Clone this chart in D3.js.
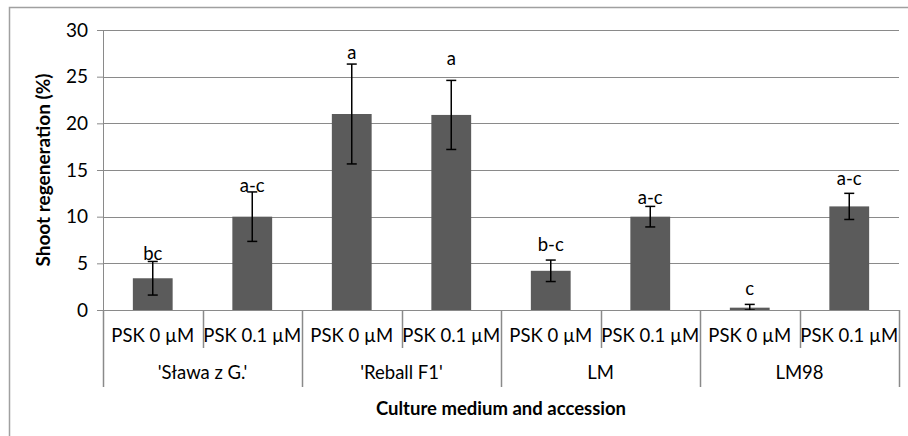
<!DOCTYPE html>
<html>
<head>
<meta charset="utf-8">
<script src="https://cdn.jsdelivr.net/npm/d3@7"></script>
<style>
  body { margin: 0; background: #fff; }
  svg { display: block; font-family: Lato, "Open Sans", sans-serif; }
</style>
</head>
<body>
<div id="chart"></div>
<script>
"use strict";

// chart data
var groups = ["'Sława z G.'", "'Reball F1'", "LM", "LM98"];
var treatments = ["PSK 0 µM", "PSK 0.1 µM"];
var means = [3.4, 10.0, 21.0, 20.9, 4.2, 10.0, 0.25, 11.1];
var errors = [1.8, 2.65, 5.35, 3.7, 1.15, 1.1, 0.35, 1.4];
var letters = ["bc", "a-c", "a", "a", "b-c", "a-c", "c", "a-c"];
var letterAt = [6.1, 13.3, 27.6, 26.9, 7.0, 12.1, 2.3, 14.1];
var yTicks = [0, 5, 10, 15, 20, 25, 30];

(function() {

var width = 908, height = 436;
var plotLeft = 103, plotRight = 899, plotTop = 30, plotBottom = 310;
var grey = "#8a8a8a";
var fs = "18.5px";

// one row per bar
var rows = means.map(function(m, i) {
  return {
    key: i,
    group: groups[Math.floor(i / treatments.length)],
    treatment: treatments[i % treatments.length],
    mean: m,
    err: errors[i],
    letter: letters[i],
    letterAt: letterAt[i]
  };
});

var svg = d3.select("#chart").append("svg")
  .attr("width", width)
  .attr("height", height);

// outer chart frame
svg.append("rect")
  .attr("x", 9.5).attr("y", 7.5)
  .attr("width", 940).attr("height", 460)
  .attr("fill", "none")
  .attr("stroke", "#a0a0a0")
  .attr("stroke-width", 1.5);

var x = d3.scaleBand()
  .domain(rows.map(function(d) { return d.key; }))
  .range([plotLeft, plotRight])
  .padding(0);

var y = d3.scaleLinear().domain([0, 30]).range([plotBottom, plotTop]);

var barW = x.bandwidth() * 0.4;

// gridlines + y axis
svg.append("g").selectAll("line")
  .data(yTicks.filter(function(t) { return t > 0; }))
  .enter().append("line")
  .attr("x1", plotLeft).attr("x2", plotRight)
  .attr("y1", function(t) { return Math.round(y(t)) + 0.5; })
  .attr("y2", function(t) { return Math.round(y(t)) + 0.5; })
  .attr("stroke", grey);

var yAxis = svg.append("g")
  .attr("transform", "translate(" + plotLeft + ",0)")
  .call(d3.axisLeft(y).tickValues(yTicks).tickSize(6).tickPadding(9));
yAxis.select(".domain").attr("stroke", grey);
yAxis.selectAll(".tick line").attr("stroke", grey);
yAxis.selectAll(".tick text")
  .attr("fill", "#000")
  .style("font-family", "Lato, sans-serif")
  .style("font-size", "19px");

// bars
svg.append("g").selectAll("rect")
  .data(rows)
  .enter().append("rect")
  .attr("x", function(d) { return x(d.key) + (x.bandwidth() - barW) / 2; })
  .attr("y", function(d) { return y(d.mean); })
  .attr("width", barW)
  .attr("height", function(d) { return y(0) - y(d.mean); })
  .attr("fill", "#5b5b5b");

// error bars
var eb = svg.append("g").selectAll("g")
  .data(rows)
  .enter().append("g")
  .attr("transform", function(d) { return "translate(" + (x(d.key) + x.bandwidth() / 2) + ",0)"; })
  .attr("stroke", "#000")
  .attr("stroke-width", 1.5);
eb.append("line")
  .attr("y1", function(d) { return y(d.mean + d.err); })
  .attr("y2", function(d) { return y(Math.max(0, d.mean - d.err)); });
eb.append("line")
  .attr("x1", -5).attr("x2", 5)
  .attr("y1", function(d) { return y(d.mean + d.err); })
  .attr("y2", function(d) { return y(d.mean + d.err); });
eb.append("line")
  .attr("x1", -5).attr("x2", 5)
  .attr("y1", function(d) { return y(Math.max(0, d.mean - d.err)); })
  .attr("y2", function(d) { return y(Math.max(0, d.mean - d.err)); });

// significance letters
svg.append("g").selectAll("text")
  .data(rows)
  .enter().append("text")
  .attr("x", function(d) { return x(d.key) + x.bandwidth() / 2; })
  .attr("y", function(d) { return y(d.letterAt); })
  .attr("dy", "0.35em")
  .attr("text-anchor", "middle")
  .style("font-size", fs)
  .text(function(d) { return d.letter; });

// x axis, two levels
svg.append("line")
  .attr("x1", plotLeft).attr("x2", plotRight)
  .attr("y1", plotBottom + 0.5).attr("y2", plotBottom + 0.5)
  .attr("stroke", grey);

var bounds = d3.range(rows.length + 1);
svg.append("g").selectAll("line")
  .data(bounds)
  .enter().append("line")
  .attr("x1", function(i) { return Math.round(plotLeft + i * x.step()) + 0.5; })
  .attr("x2", function(i) { return Math.round(plotLeft + i * x.step()) + 0.5; })
  .attr("y1", plotBottom)
  .attr("y2", function(i) { return i % treatments.length === 0 ? 387 : 348; })
  .attr("stroke", grey)
  .attr("stroke-width", 1.5);

svg.append("g").selectAll("text")
  .data(rows)
  .enter().append("text")
  .attr("x", function(d) { return x(d.key) + x.bandwidth() / 2; })
  .attr("y", 336)
  .attr("dy", "0.35em")
  .attr("text-anchor", "middle")
  .style("font-size", fs)
  .text(function(d) { return d.treatment; });

svg.append("g").selectAll("text")
  .data(groups)
  .enter().append("text")
  .attr("x", function(g, i) { return plotLeft + (i + 0.5) * treatments.length * x.step(); })
  .attr("y", 373)
  .attr("dy", "0.35em")
  .attr("text-anchor", "middle")
  .style("font-size", fs)
  .text(function(g) { return g; });

// axis titles
svg.append("text")
  .attr("x", (plotLeft + plotRight) / 2)
  .attr("y", 409)
  .attr("dy", "0.35em")
  .attr("text-anchor", "middle")
  .style("font-size", fs)
  .style("font-weight", "bold")
  .text("Culture medium and accession");

svg.append("text")
  .attr("transform", "translate(43," + ((plotTop + plotBottom) / 2) + ") rotate(-90)")
  .attr("dy", "0.35em")
  .attr("text-anchor", "middle")
  .style("font-size", "19px")
  .style("font-weight", "bold")
  .text("Shoot regeneration (%)");

})();
</script>
</body>
</html>
